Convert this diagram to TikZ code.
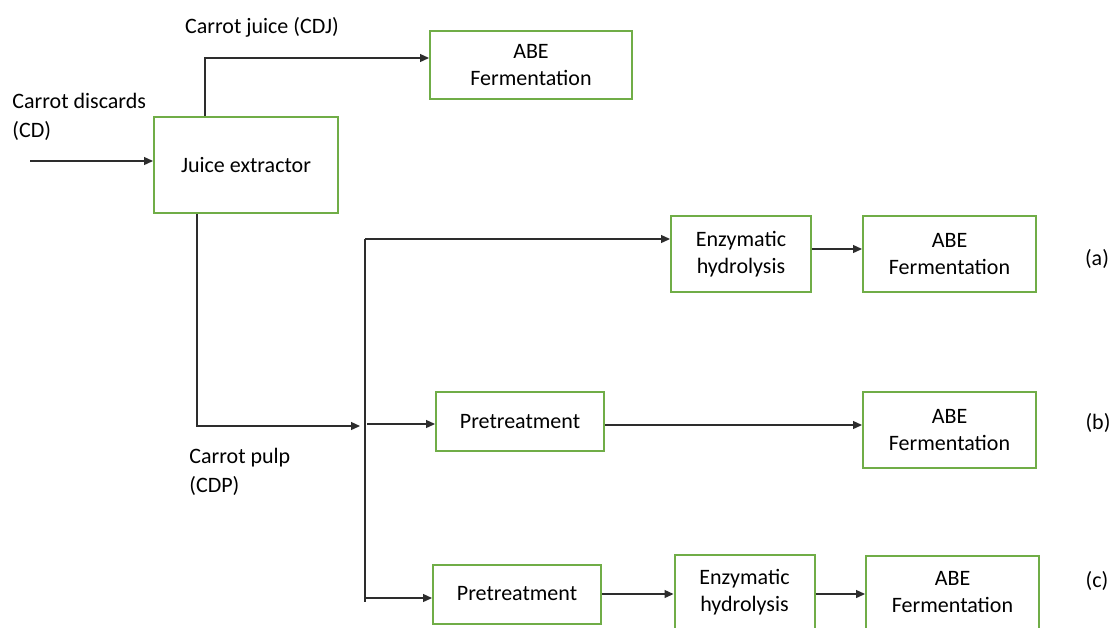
\documentclass[tikz,border=0pt]{standalone}
\usepackage{fontspec}
\setmainfont{Carlito}
\usepackage{tikz}
\usetikzlibrary{arrows.meta}
\definecolor{boxgreen}{RGB}{112,173,71}
\definecolor{linegray}{RGB}{45,45,45}
\newcommand{\widthabe}{86.5pt}
\newcommand{\widthenz}{70pt}
\newcommand{\widthpre}{84pt}
\tikzset{
    common/.style={draw=boxgreen, line width=1pt, rectangle, align=center, inner sep=2pt,
        font=\fontsize{11}{13.5}\selectfont},
    abe/.style={common, minimum width=\widthabe, minimum height=38pt},
    enz/.style={common, minimum width=\widthenz, minimum height=38pt},
    pre/.style={common, minimum width=\widthpre, minimum height=29.5pt},
    tag/.style={font=\fontsize{11}{14.5}\selectfont, align=left, inner sep=0pt},
    flow/.style={linegray, line width=0.65pt},
    feed/.style={flow, -{Triangle[length=4.5pt,width=4pt]}}
}

\begin{document}
\begin{tikzpicture}[x=0.5pt, y=-0.5pt]
    \useasboundingbox (0,0) rectangle (1112,627);

    % extraction
    \node[common, minimum width=92pt, minimum height=48pt] (extractor) at (246,165) {Juice extractor};
    \node[abe, minimum width=101pt, minimum height=34pt] (abeJ) at (531,65) {ABE\\Fermentation};

    % route (a)
    \node[enz] (enzA) at (741,254) {Enzymatic\\hydrolysis};
    \node[abe] (abeA) at (949.5,254) {ABE\\Fermentation};
    % route (b)
    \node[pre] (preB) at (520,421.5) {Pretreatment};
    \node[abe] (abeB) at (949.5,430) {ABE\\Fermentation};
    % route (c)
    \node[pre] (preC) at (517,594) {Pretreatment};
    \node[enz, minimum height=37pt] (enzC) at (744.5,592) {Enzymatic\\hydrolysis};
    \node[abe, minimum height=36.5pt] (abeC) at (952.5,592.5) {ABE\\Fermentation};

    % texts
    \node[tag, anchor=west] (cdTxt) at (12,117) {Carrot discards\\(CD)};
    \node[tag] (cdjTxt) at (262,27) {Carrot juice (CDJ)};
    \node[tag, anchor=west] (cdpTxt) at (189,472) {Carrot pulp\\(CDP)};
    \node[tag] (tagA) at (1097,259) {(a)};
    \node[tag] (tagB) at (1098,423) {(b)};
    \node[tag] (tagC) at (1097,581) {(c)};

    \coordinate (cdIn) at (30,161);
    \coordinate (juiceUp) at (205,58);
    \coordinate (pulpDown) at (197,426);
    \coordinate (pulpEnd) at (360,426);
    \coordinate (splitTop) at (365,239);
    \coordinate (splitMid) at (367,424);
    \coordinate (splitBot) at (364,598);
    \coordinate (splitEnd) at (365,602);

    \draw[feed] (cdIn) -- (cdIn -| extractor.west);
    \draw[feed] (extractor.north -| juiceUp) -- (juiceUp) -- (juiceUp -| abeJ.west);
    \draw[feed] (extractor.south -| pulpDown) -- (pulpDown) -- (pulpEnd);
    \draw[flow] (splitTop) -- (splitEnd);
    \draw[feed] (splitTop) -- (splitTop -| enzA.west);
    \draw[feed] (splitMid) -- (splitMid -| preB.west);
    \draw[feed] (splitBot) -- (splitBot -| preC.west);

    \draw[feed] (enzA.east |- 0,249) -- (abeA.west |- 0,249);
    \draw[feed] (preB.east |- 0,425) -- (abeB.west |- 0,425);
    \draw[feed] (preC.east) -- (preC.east -| enzC.west);
    \draw[feed] (enzC.east |- preC.east) -- (abeC.west |- preC.east);
\end{tikzpicture}
\end{document}
